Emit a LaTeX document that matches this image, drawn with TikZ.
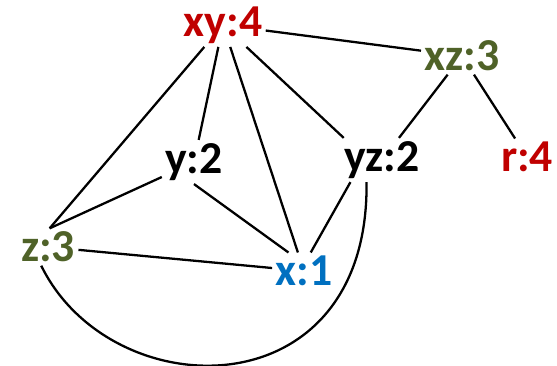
\documentclass[tikz,border=0pt]{standalone}
\usepackage{fontspec}
\setmainfont{Carlito}
\definecolor{wred}{HTML}{C00000}
\definecolor{wgreen}{HTML}{4F6228}
\definecolor{wblue}{HTML}{0070C0}

\begin{document}
\begin{tikzpicture}[
  font=\fontsize{26}{30}\selectfont\bfseries,
  vertex/.style={inner sep=2pt, outer sep=0pt},
  edge/.style={draw=black, line width=1.3pt}
]
\path[use as bounding box] (0,0) rectangle (11.14,7.3);

\node[vertex, text=wred]   (xy) at (4.46,6.80) {xy:4};
\node[vertex, text=wgreen] (xz) at (9.24,6.18) {xz:3};
\node[vertex, text=wred]   (r)  at (10.54,4.16) {r:4};
\node[vertex]              (yz) at (7.64,4.10) {yz:2};
\node[vertex]              (y)  at (3.88,4.06) {y:2};
\node[vertex, text=wgreen] (z)  at (0.96,2.36) {z:3};
\node[vertex, text=wblue]  (x)  at (6.08,1.88) {x:1};

\draw[edge] (xy) -- (xz);
\draw[edge] (xz) -- (yz);
\draw[edge] (xz) -- (r);
\draw[edge] (xy) -- (y);
\draw[edge] (xy) -- (yz.150);
\draw[edge] (xy) -- (x);
\draw[edge] (xy) -- (z.85);
\draw[edge] (y.205) -- (z.85);
\draw[edge] (y.south) -- (x.130);
\draw[edge] (z) -- (x);
\draw[edge] (yz.215) -- (x.70);
\draw[edge] (z.250) .. controls +(1.4,-2.86) and +(0.06,-4.62) .. (yz.235);
\end{tikzpicture}
\end{document}
